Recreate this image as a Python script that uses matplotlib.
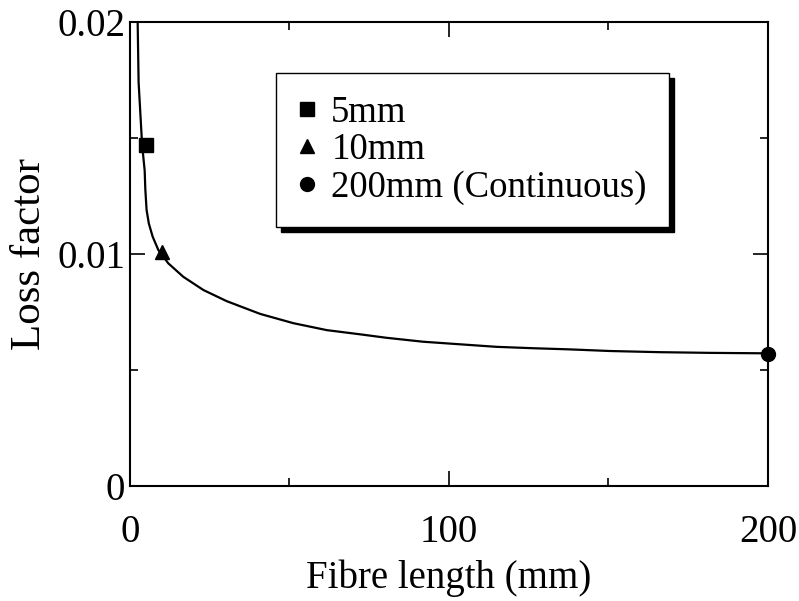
import matplotlib
matplotlib.use("Agg")
import matplotlib.pyplot as plt
from matplotlib.patches import Shadow
from matplotlib.ticker import MultipleLocator

# curve
curve_x = [2.4, 2.7, 3.8, 4.6, 4.8, 5.2, 5.9, 7.1, 8.9, 12.0, 16.7, 23.0,
           30.3, 40.8, 51.2, 61.7, 72.1, 80.4, 91.9, 103.4, 114.9, 126.4,
           137.9, 150.5, 166.1, 181.8, 200]
curve_y = [0.0200, 0.0174, 0.0147, 0.0136, 0.0128, 0.0119, 0.01132, 0.01075,
           0.01017, 0.0096, 0.00902, 0.00845, 0.00797, 0.00742, 0.00702,
           0.00672, 0.00654, 0.00639, 0.00622, 0.00611, 0.00600, 0.00594,
           0.00589, 0.00582, 0.00577, 0.00574, 0.00572]

# measured points
labels = ['5mm', '10mm', '200mm (Continuous)']
pts_x = [5, 10, 200]
pts_y = [0.0147, 0.0101, 0.0057]
markers = ['s', '^', 'o']

plt.rcParams['font.family'] = ['Liberation Serif', 'DejaVu Serif']

fig = plt.figure(figsize=(7.99, 6.01), dpi=100)
ax = fig.add_axes([0.1627, 0.1913, 0.7985, 0.7720])

ax.plot(curve_x, curve_y, color='black', lw=1.6)
for x, y, m, lab in zip(pts_x, pts_y, markers, labels):
    ax.plot([x], [y], marker=m, color='black', ms=10, ls='none',
            label=lab, clip_on=False, zorder=4)

ax.set_xlim(0, 200)
ax.set_ylim(0, 0.02)
ax.set_xticks([0, 100, 200])
ax.set_xticklabels(['0', '100', '200'])
ax.set_yticks([0, 0.01, 0.02])
ax.set_yticklabels(['0', '0.01', '0.02'])
ax.xaxis.set_minor_locator(MultipleLocator(50))
ax.yaxis.set_minor_locator(MultipleLocator(0.005))
ax.tick_params(which='both', direction='in', top=True, right=True,
               width=1.2, labelsize=28)
ax.tick_params(which='major', length=11)
ax.tick_params(which='minor', length=6)
ax.tick_params(axis='x', pad=20)
ax.tick_params(axis='y', pad=3.5)
for s in ax.spines.values():
    s.set_linewidth(1.5)

ax.set_xlabel('Fibre length (mm)', fontsize=28, labelpad=6)
ax.set_ylabel('Loss factor', fontsize=31, labelpad=6)

leg = ax.legend(loc='upper left', bbox_to_anchor=(0.229, 0.890),
                borderaxespad=0, fontsize=26.5, frameon=True, fancybox=False,
                handlelength=0.5, handletextpad=0.4, labelspacing=0.08,
                borderpad=0.6, markerscale=1.0)
leg.get_frame().set_edgecolor('black')
leg.get_frame().set_linewidth(1.0)
leg.get_frame().set_alpha(1)

fig.canvas.draw()
sh = Shadow(leg.legendPatch, 3.5, -3.5, color='black', alpha=1, zorder=4.9)
ax.add_artist(sh)

fig.savefig('out.png', dpi=100)
